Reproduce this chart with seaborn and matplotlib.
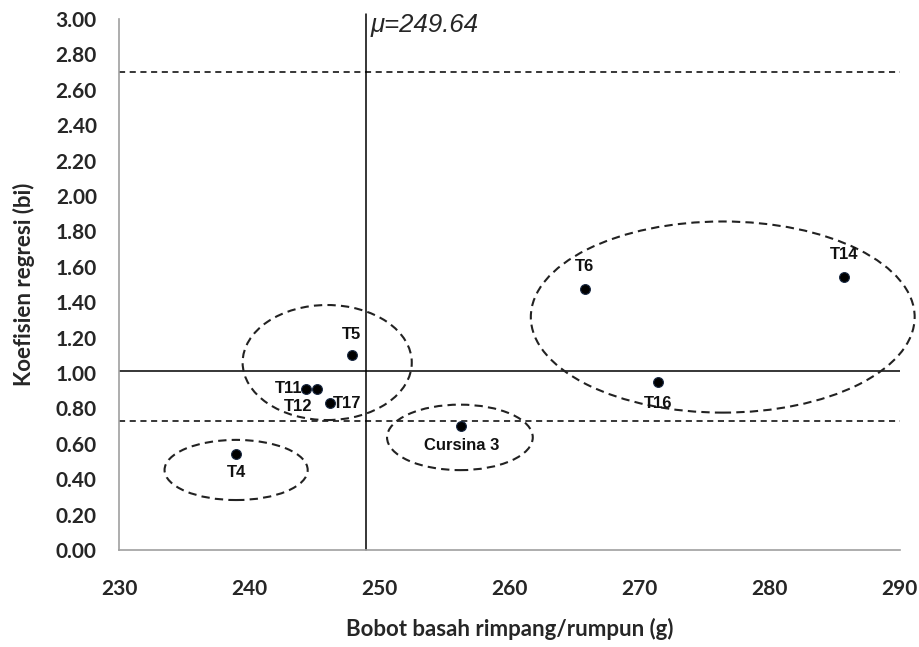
import matplotlib
matplotlib.use('Agg')
import matplotlib.pyplot as plt
import pandas as pd
import seaborn as sns
from matplotlib.patches import Ellipse

# Data
labels = ['T4', 'T11', 'T12', 'T17', 'T5', 'Cursina 3', 'T6', 'T16', 'T14']
bobot = [239.0, 244.4, 245.2, 246.2, 247.9, 256.3, 265.8, 271.4, 285.7]
koef = [0.54, 0.91, 0.91, 0.83, 1.10, 0.70, 1.475, 0.947, 1.545]

mean_x_line = 249.0      # where the vertical line is drawn
mean_x_text = 'μ=249.64'
mean_y = 1.01
upper_ci = 2.70
lower_ci = 0.73

# groups circled with dashed ellipses: (center x, center y, width, height)
groups_x = [239.0, 246.0, 256.2, 276.4]
groups_y = [0.452, 1.059, 0.636, 1.316]
groups_w = [11.0, 13.0, 11.2, 29.5]
groups_h = [0.34, 0.65, 0.37, 1.08]

df = pd.DataFrame({'label': labels, 'bobot': bobot, 'koef': koef})

sns.set_style('white')
plt.rcParams['font.family'] = ['Lato', 'DejaVu Sans']

fig = plt.figure(figsize=(9.19, 6.47), dpi=100)
ax = fig.add_axes([0.1295, 0.150, 0.8495, 0.8206])

# reference lines
ax.axhline(mean_y, color='black', linewidth=1.1, zorder=1)
ax.axhline(upper_ci, color='black', linewidth=1.1, linestyle=(0, (4, 3)), zorder=1)
ax.axhline(lower_ci, color='black', linewidth=1.1, linestyle=(0, (4, 3)), zorder=1)
ax.plot([mean_x_line, mean_x_line], [0, 3.03], color='black', linewidth=1.1,
        clip_on=False, zorder=1)
ax.text(mean_x_line + 0.3, 2.965, mean_x_text, fontsize=18.5, style='italic',
        family=['Liberation Sans', 'DejaVu Sans'], va='center', ha='left')

sns.scatterplot(data=df, x='bobot', y='koef', ax=ax, color='black', s=50,
                edgecolor='#1a2a44', linewidth=0.8, zorder=3, legend=False)

# point labels with offsets in points
offsets = {
    'T4': (0, -13, 'center'),
    'T11': (-3, 0, 'right'),
    'T12': (-3, -13, 'right'),
    'T17': (2, 0, 'left'),
    'T5': (0, 15, 'center'),
    'Cursina 3': (0, -14, 'center'),
    'T6': (0, 16, 'center'),
    'T16': (0, -15, 'center'),
    'T14': (0, 16, 'center'),
}
for lab, x, y in zip(labels, bobot, koef):
    dx, dy, ha = offsets[lab]
    ax.annotate(lab, (x, y), xytext=(dx, dy), textcoords='offset points',
                ha=ha, va='center', fontsize=12, fontweight='bold',
                family=['Liberation Sans', 'DejaVu Sans'], color='#111111')

for cx, cy, w, h in zip(groups_x, groups_y, groups_w, groups_h):
    ax.add_patch(Ellipse((cx, cy), w, h, fill=False, edgecolor='#222222',
                         linewidth=1.5, linestyle=(0, (4, 2.5)), clip_on=False, zorder=2))

ax.set_xlim(230, 290)
ax.set_ylim(0, 3.0)
ax.set_xticks(range(230, 291, 10))
ax.set_yticks([i * 0.2 for i in range(16)])
ax.set_yticklabels([f'{i * 0.2:.2f}' for i in range(16)])

for side in ['top', 'right']:
    ax.spines[side].set_visible(False)
for side in ['left', 'bottom']:
    ax.spines[side].set_color('#a0a0a0')
    ax.spines[side].set_linewidth(1.2)

ax.tick_params(axis='both', which='both', direction='out', length=6, width=1.1,
               color='#a0a0a0', labelsize=15)
ax.tick_params(axis='y', pad=10)
ax.tick_params(axis='x', pad=15)
for t in ax.get_xticklabels() + ax.get_yticklabels():
    t.set_fontweight('bold')

ax.set_xlabel('Bobot basah rimpang/rumpun (g)', fontsize=16, fontweight='bold')
ax.set_ylabel('Koefisien regresi (bi)', fontsize=16, fontweight='bold')
ax.xaxis.set_label_coords(0.5, -0.128)
ax.yaxis.set_label_coords(-0.108, 0.5)

fig.savefig('out.png', dpi=100)
